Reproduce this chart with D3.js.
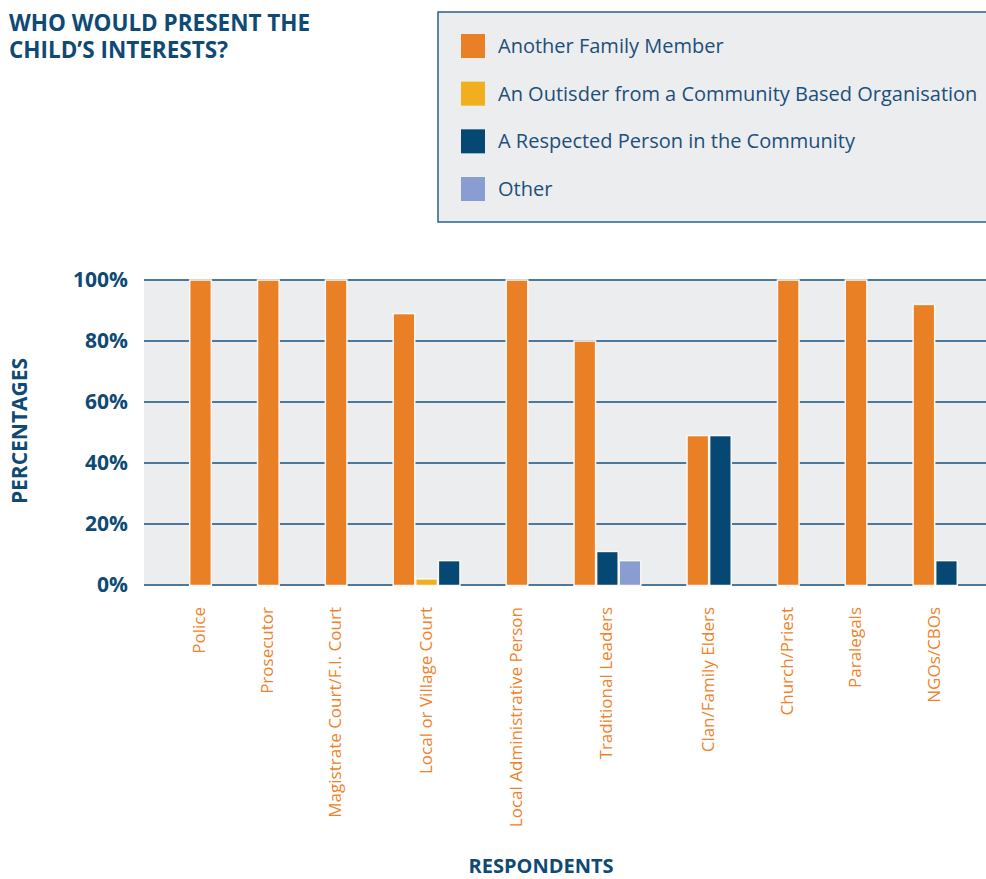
<!DOCTYPE html>
<html>
<head>
<meta charset="utf-8">
<script src="https://cdn.jsdelivr.net/npm/d3@7"></script>
<style>
  html,body{margin:0;padding:0;background:#fff;}
  svg{display:block;font-family:"Open Sans",sans-serif;}
</style>
</head>
<body>
<div id="chart"></div>
<script>
const categories=["Police","Prosecutor","Magistrate Court/F.I. Court","Local or Village Court","Local Administrative Person","Traditional Leaders","Clan/Family Elders","Church/Priest","Paralegals","NGOs/CBOs"];
const seriesNames=["Another Family Member","An Outisder from a Community Based Organisation","A Respected Person in the Community","Other"];
const familyMember=[100,100,100,89,100,80,49,100,100,92];
const outsider=[0,0,0,2,0,0,0,0,0,0];
const respected=[0,0,0,8,0,11,49,0,0,8];
const other=[0,0,0,0,0,8,0,0,0,0];
const yTicks=[0,20,40,60,80,100];
const titleLines=["WHO WOULD PRESENT THE","CHILD\u2019S INTERESTS?"];

(function(){
  const W=986,H=879;
  const navy="#0f4a75", ink="#1d4f7a";
  const colors=["#ea8026","#f1ae1f","#044873","#8a9dd2"];
  const values=[familyMember,outsider,respected,other];

  const svg=d3.select("#chart").append("svg").attr("width",W).attr("height",H);

  // title, one text per line
  svg.append("g").selectAll("text").data(titleLines).join("text")
    .attr("x",9).attr("y",(d,i)=>31+i*27)
    .attr("fill",navy).attr("font-size",22.5).attr("font-weight",700).text(d=>d);

  // legend
  const lg=svg.append("g");
  lg.append("rect").attr("x",438).attr("y",12).attr("width",560).attr("height",210)
    .attr("fill","#ecedef").attr("stroke","#2a6090").attr("stroke-width",1.5);
  const ly=d3.scalePoint().domain(seriesNames).range([46,189]);
  seriesNames.forEach((n,i)=>{
    lg.append("rect").attr("x",461).attr("y",ly(n)-12).attr("width",24).attr("height",24).attr("fill",colors[i]);
    lg.append("text").attr("x",498).attr("y",ly(n)).attr("dy","0.35em")
      .attr("font-size",20).attr("fill",ink).text(n);
  });

  // slot layout: only non-zero bars are drawn, packed, two empty slots between groups
  let slot=0;
  const groups=categories.map((c,i)=>{
    slot+=2;
    const bars=values.map((v,s)=>({s,v:v[i]})).filter(b=>b.v>0).map(b=>({...b,slot:slot++}));
    return {c,bars};
  });
  slot+=2;

  const x=d3.scaleBand().domain(d3.range(slot)).range([144,1003]).padding(0);
  const y=d3.scaleLinear().domain([0,100]).range([585,280]);

  svg.append("rect").attr("x",144).attr("y",y(100)-1).attr("width",W-144).attr("height",y(0)-y(100)+2)
    .attr("fill","#ecedef");

  svg.append("g").selectAll("line").data(yTicks).join("line")
    .attr("x1",144).attr("x2",W).attr("y1",d=>y(d)).attr("y2",d=>y(d))
    .attr("stroke","#17507f").attr("stroke-width",1.6);

  svg.append("g").attr("transform","translate(128,0)")
    .call(d3.axisLeft(y).tickValues(yTicks).tickFormat(d=>d+"%").tickSize(0).tickPadding(0))
    .call(s=>s.select(".domain").remove())
    .call(s=>s.selectAll("text").attr("fill",navy).attr("font-size",21).attr("font-weight",700)
      .attr("font-family","'Open Sans',sans-serif"));

  const allBars=groups.flatMap(g=>g.bars);
  svg.append("g").selectAll("rect").data(allBars).join("rect")
    .attr("x",d=>x(d.slot)+0.5).attr("width",x.bandwidth()-1)
    .attr("y",d=>y(d.v)).attr("height",d=>y(0)-y(d.v)+0.5)
    .attr("fill",d=>colors[d.s]).attr("stroke","#fbf7f2").attr("stroke-width",1.5);

  svg.append("g").selectAll("text").data(groups).join("text")
    .attr("transform",g=>{
      const cx=(x(g.bars[0].slot)+x(g.bars[g.bars.length-1].slot)+x.bandwidth())/2;
      return `translate(${cx-1},607) rotate(-90)`;
    })
    .attr("dy","0.35em").attr("text-anchor","end")
    .attr("font-size",17).attr("fill","#ef822a").text(g=>g.c);

  svg.append("text").attr("transform","translate(20,431) rotate(-90)")
    .attr("text-anchor","middle").attr("dy","0.35em")
    .attr("font-size",21).attr("font-weight",700).attr("fill",navy).text("PERCENTAGES");

  svg.append("text").attr("x",541).attr("y",873)
    .attr("text-anchor","middle").attr("font-size",20).attr("font-weight",700)
    .attr("fill",navy).text("RESPONDENTS");
})();
</script>
</body>
</html>
